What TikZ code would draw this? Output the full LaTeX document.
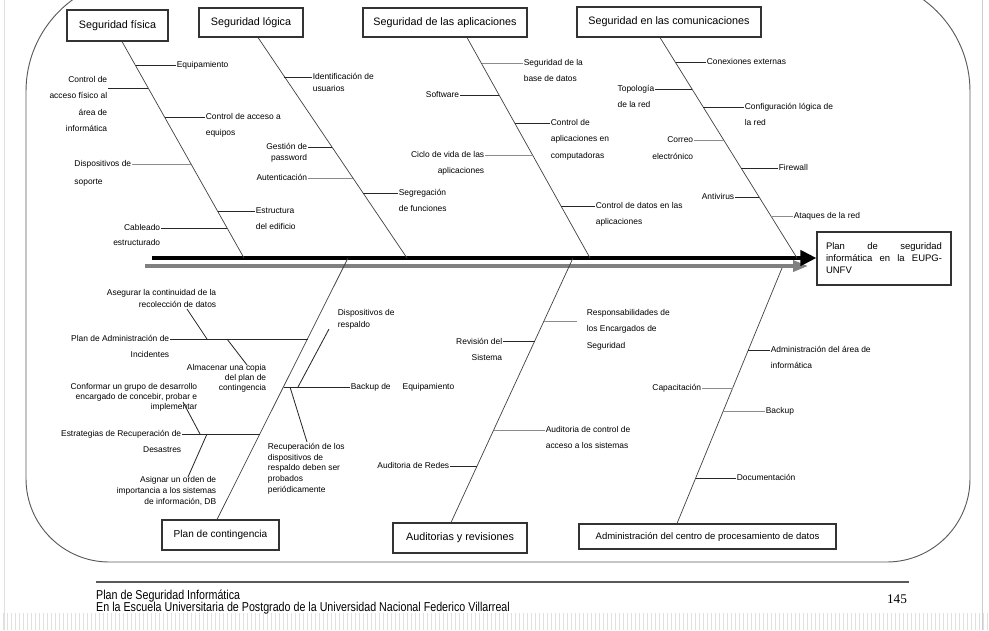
\documentclass[tikz,border=0pt]{standalone}
\usepackage{fontspec}
\setmainfont{Liberation Sans}
\newfontfamily\footfont[FakeStretch=0.83]{Liberation Sans}
\newfontfamily\pagefont{Liberation Serif}
\usetikzlibrary{arrows.meta, calc}
\definecolor{framegray}{RGB}{90,90,90}
\definecolor{twiggray}{RGB}{140,140,140}
\definecolor{spinegray}{RGB}{128,128,128}

\begin{document}
\begin{tikzpicture}[
  x=0.03cm, y=-0.03cm,
  catbox/.style={draw=black!80, line width=0.9pt, fill=white, inner sep=0pt,
                 font=\fontsize{9.2}{11}\selectfont},
  lbl/.style={inner sep=0.5pt, align=left, font=\fontsize{7.2}{13.8}\selectfont},
  tight/.style={inner sep=0.5pt, align=left, font=\fontsize{7.2}{9.3}\selectfont},
  bone/.style={draw=black!75, line width=0.6pt},
  twig/.style={draw=black!85, line width=0.7pt},
  twigg/.style={draw=twiggray, line width=0.7pt},
]
  \useasboundingbox (0,0) rectangle (989,630);
  \clip (0,0) rectangle (989,630);

  % page edges of the scan
  \draw[black!12] (4,0) -- (4,630);
  \draw[black!20] (982,0) -- (982,630);
  \foreach \x in {3,7,...,987}
    \draw[black!12] (\x,613) -- (\x,630);

  % frame
  \draw[framegray, line width=0.8pt] (500,562) [rounded corners=2.5cm] -- (26,562) -- (26,300)
    [rounded corners=3.4cm] -- (26,-22) -- (500,-22) -- (970,-22) -- (970,300)
    [rounded corners=2.5cm] -- (970,562) -- (500,562);

  % category boxes
  \node[catbox, minimum width=3.03cm, minimum height=0.93cm] (sf) at (117.5,25.5) {Seguridad física};
  \node[catbox, minimum width=3.12cm, minimum height=0.87cm] (sl) at (251,22.5) {Seguridad lógica};
  \node[catbox, minimum width=4.92cm, minimum height=0.87cm] (sa) at (445,22.5) {Seguridad de las aplicaciones};
  \node[catbox, minimum width=5.52cm, minimum height=0.9cm] (sc) at (669,22) {Seguridad en las comunicaciones};
  \node[catbox, minimum width=3.51cm, minimum height=0.9cm, font=\fontsize{8.6}{10}\selectfont] (pc) at (220.5,535) {Plan de contingencia};
  \node[catbox, minimum width=4.02cm, minimum height=0.9cm] (ar) at (460,538) {Auditorias y revisiones};
  \node[catbox, minimum width=7.71cm, minimum height=0.75cm, font=\fontsize{8.1}{10}\selectfont] (dm) at (707.5,536.5) {Administración del centro de procesamiento de datos};

  % effect
  \node[draw=black!80, line width=0.9pt, fill=white, minimum width=4.02cm, minimum height=1.59cm,
        text width=3.48cm, align=left, inner xsep=0.27cm, font=\fontsize{8.1}{10.2}\selectfont]
    (hd) at (884,258.5) {Plan\hfill de\hfill seguridad\\informática\hfill en\hfill la\hfill EUPG-\\UNFV};

  % spine
  \coordinate (sp0) at (152,258);
  \coordinate (sp1) at (145,266);
  \coordinate (sp2) at (808,266);
  \draw[spinegray, line width=0.105cm, -{Triangle[length=0.45cm, width=0.33cm]}] (sp1) -- (sp2);
  \draw[black, line width=0.12cm, -{Triangle[length=0.48cm, width=0.45cm]}] (sp0) -- (sp0 -| hd.west);

  % bones
  \draw[bone] (122,0 |- sf.south) -- (244,258);
  \draw[bone] (258,0 |- sl.south) -- (407,258);
  \draw[bone] (467,0 |- sa.south) -- (590,258);
  \draw[bone] (660,0 |- sc.south) -- (797,258);
  \draw[bone] (348,258) -- (217,0 |- pc.north);
  \draw[bone] (573,258) -- (451,0 |- ar.north);
  \draw[bone] (782,268) -- (677,0 |- dm.north);

  % Seguridad fisica (multi-line labels sit on their last baseline)
  \node[lbl, anchor=base west] (fis1) at (176,67.5) {Equipamiento};
  \node[lbl, font=\fontsize{7.2}{13.9}\selectfont, align=right, anchor=base east] (fis2) at (108,131.5) {Control de\\acceso físico al\\área de\\informática};
  \node[lbl, anchor=base west] (fis3) at (205,135.7) {Control de acceso a\\equipos};
  \node[lbl, font=\fontsize{7.2}{15}\selectfont, anchor=base east] (fis4) at (132,184.1) {Dispositivos de\\soporte};
  \node[lbl, anchor=base west] (fis5) at (255,229.7) {Estructura\\del edificio};
  \node[lbl, font=\fontsize{7.2}{12.8}\selectfont, align=right, anchor=base east] (fis6) at (161,245.5) {Cableado\\estructurado};
  \coordinate (f1) at (135.5,65);
  \coordinate (f2) at (148.4,88);
  \coordinate (f3) at (164.7,117);
  \coordinate (f4) at (191.2,164);
  \coordinate (f5) at (217.6,211);
  \coordinate (f6) at (227.1,228);
  \draw[twig] (f1) -- (f1 -| fis1.west);
  \draw[twig] (f2) -- (f2 -| fis2.east);
  \draw[twig] (f3) -- (f3 -| fis3.west);
  \draw[twigg] (f4) -- (f4 -| fis4.east);
  \draw[twig] (f5) -- (f5 -| fis5.west);
  \draw[twig] (f6) -- (f6 -| fis6.east);

  % Seguridad logica
  \node[tight, font=\fontsize{7.2}{10.2}\selectfont, anchor=base west] (log1) at (312,91.5) {Identificación de\\usuarios};
  \node[tight, align=right, anchor=base east] (log2) at (308,160.4) {Gestión de\\password};
  \node[lbl, anchor=base east] (log3) at (308,180.5) {Autenticación};
  \node[lbl, anchor=base west] (log4) at (398,211.7) {Segregación\\de funciones};
  \coordinate (l1) at (283.9,77);
  \coordinate (l2) at (331.5,147);
  \coordinate (l3) at (352.6,178);
  \coordinate (l4) at (362.8,193);
  \draw[twig] (l1) -- (l1 -| log1.west);
  \draw[twig] (l2) -- (l2 -| log2.east);
  \draw[twigg] (l3) -- (l3 -| log3.east);
  \draw[twig] (l4) -- (l4 -| log4.west);

  % Seguridad de las aplicaciones
  \node[lbl, anchor=base west] (apl1) at (523,81.7) {Seguridad de la\\base de datos};
  \node[lbl, anchor=base east] (apl2) at (460,97.5) {Software};
  \node[lbl, anchor=base west] (apl3) at (550,158) {Control de\\aplicaciones en\\computadoras};
  \node[lbl, align=right, anchor=base east] (apl4) at (485,173.7) {Ciclo de vida de las\\aplicaciones};
  \node[lbl, anchor=base west] (apl5) at (595,224.7) {Control de datos en las\\aplicaciones};
  \coordinate (a1) at (481.5,63);
  \coordinate (a2) at (499.3,95);
  \coordinate (a3) at (514.9,123);
  \coordinate (a4) at (532.7,155);
  \coordinate (a5) at (561.1,206);
  \draw[twigg] (a1) -- (a1 -| apl1.west);
  \draw[twig] (a2) -- (a2 -| apl2.east);
  \draw[twig] (a3) -- (a3 -| apl3.west);
  \draw[twigg] (a4) -- (a4 -| apl4.east);
  \draw[twig] (a5) -- (a5 -| apl5.west);

  % Seguridad en las comunicaciones
  \node[lbl, anchor=base west] (com1) at (706,64.5) {Conexiones externas};
  \node[lbl, anchor=base east] (com2) at (655,107.7) {Topología\\de la red};
  \node[lbl, anchor=base west] (com3) at (744,125.7) {Configuración lógica de\\la red};
  \node[lbl, font=\fontsize{7.2}{14.4}\selectfont, align=right, anchor=base east] (com4) at (694,159.4) {Correo\\electrónico};
  \node[lbl, anchor=base west] (com5) at (778,170.5) {Firewall};
  \node[lbl, anchor=base east] (com6) at (735,199.5) {Antivirus};
  \node[lbl, anchor=base west] (com7) at (793,218.5) {Ataques de la red};
  \coordinate (c1) at (675.5,62);
  \coordinate (c2) at (692.2,89);
  \coordinate (c3) at (703.4,107);
  \coordinate (c4) at (723.9,140);
  \coordinate (c5) at (741.2,168);
  \coordinate (c6) at (759.2,197);
  \coordinate (c7) at (771,216);
  \draw[twig] (c1) -- (c1 -| com1.west);
  \draw[twig] (c2) -- (c2 -| com2.east);
  \draw[twig] (c3) -- (c3 -| com3.west);
  \draw[twigg] (c4) -- (c4 -| com4.east);
  \draw[twig] (c5) -- (c5 -| com5.west);
  \draw[twig] (c6) -- (c6 -| com6.east);
  \draw[twigg] (c7) -- (c7 -| com7.west);

  % Plan de contingencia
  \node[lbl, align=right, anchor=base east] (con1) at (170,357.7) {Plan de Administración de\\Incidentes};
  \node[tight, font=\fontsize{7.2}{10.2}\selectfont, align=right, anchor=base east] (con1a) at (217,307.5) {Asegurar la continuidad de la\\recolección de datos};
  \node[tight, font=\fontsize{7.2}{8.6}\selectfont, align=right, anchor=base east] (con1b) at (267,390.7) {Almacenar una copia\\del plan de\\contingencia};
  \node[lbl, anchor=base west] (con2) at (350,389.5) {Backup de\hspace{0.36cm}Equipamiento};
  \node[tight, font=\fontsize{7.2}{10.2}\selectfont, anchor=base west] (con2a) at (337,327.5) {Dispositivos de\\respaldo};
  \node[tight, font=\fontsize{7.2}{9.1}\selectfont, anchor=base west] (con2b) at (267,492.3) {Recuperación de los\\dispositivos de\\respaldo deben ser\\probados\\periódicamente};
  \node[lbl, align=right, anchor=base east] (con3) at (182,452.7) {Estrategias de Recuperación de\\Desastres};
  \node[tight, font=\fontsize{7.2}{8.6}\selectfont, align=right, anchor=base east] (con3a) at (198,409.7) {Conformar un grupo de desarrollo\\encargado de concebir, probar e\\implementar};
  \node[tight, align=right, anchor=base east] (con3b) at (217,504.4) {Asignar un orden de\\importancia a los sistemas\\de información, DB};
  \coordinate (p1) at (307.5,339);
  \coordinate (p2) at (283.5,387);
  \coordinate (p3) at (260,434);
  \draw[twig] (p1) -- (p1 -| con1.east);
  \draw[twig] (p2) -- (p2 -| con2.west);
  \draw[twig] (p3) -- (p3 -| con3.east);
  \coordinate (q1) at (187,309);
  \coordinate (q2) at (207,339);
  \coordinate (q3) at (227,339);
  \coordinate (q4) at (247,365);
  \coordinate (q5) at (298,387);
  \coordinate (q6) at (329,329);
  \coordinate (q7) at (290,387);
  \coordinate (q8) at (307,442);
  \coordinate (q9) at (200,434);
  \coordinate (q10) at (183,402);
  \coordinate (q11) at (207,434);
  \coordinate (q12) at (188,477);
  \draw[twig] (q2) -- (q1);
  \draw[twig] (q3) -- (q4);
  \draw[twig] (q5) -- (q6);
  \draw[twig] (q7) -- (q8);
  \draw[twig] (q9) -- (q10);
  \draw[twig] (q11) -- (q12);

  % Auditorias y revisiones
  \node[lbl, anchor=base west] (aud1) at (586,348) {Responsabilidades de\\los Encargados de\\Seguridad};
  \node[lbl, align=right, anchor=base east] (aud2) at (503,360.7) {Revisión del\\Sistema};
  \node[lbl, anchor=base west] (aud3) at (545,448.7) {Auditoria de control de\\acceso a los sistemas};
  \node[lbl, anchor=base east] (aud4) at (450,468.5) {Auditoria de Redes};
  \coordinate (u1) at (544,321);
  \coordinate (u1e) at (577,321);
  \coordinate (u2) at (534.8,341);
  \coordinate (u3) at (493.8,430);
  \coordinate (u4) at (477.2,466);
  \draw[twigg] (u1) -- (u1e);
  \draw[twig] (u2) -- (u2 -| aud2.east);
  \draw[twigg] (u3) -- (u3 -| aud3.west);
  \draw[twig] (u4) -- (u4 -| aud4.east);

  % Administracion del centro de procesamiento de datos
  \node[lbl, anchor=base west] (adm1) at (770,368.7) {Administración del área de\\informática};
  \node[lbl, anchor=base east] (adm2) at (702,390.5) {Capacitación};
  \node[lbl, anchor=base west] (adm3) at (765,413.5) {Backup};
  \node[lbl, anchor=base west] (adm4) at (736,480.5) {Documentación};
  \coordinate (d1) at (748.2,350);
  \coordinate (d2) at (732.6,388);
  \coordinate (d3) at (723.1,411);
  \coordinate (d4) at (695.5,478);
  \draw[twig] (d1) -- (d1 -| adm1.west);
  \draw[twigg] (d2) -- (d2 -| adm2.east);
  \draw[twigg] (d3) -- (d3 -| adm3.west);
  \draw[twig] (d4) -- (d4 -| adm4.west);

  % footer
  \coordinate (r0) at (96,582);
  \coordinate (r1) at (909,582);
  \draw[black!65, line width=1.1pt] (r0) -- (r1);
  \node[anchor=north west, inner sep=0pt, align=left, font=\footfont\fontsize{11}{10.3}\selectfont]
    (foot) at (96,590) {Plan de Seguridad Informática\\En la Escuela Universitaria de Postgrado de la Universidad Nacional Federico Villarreal};
  \node[inner sep=0pt, font=\pagefont\fontsize{11.3}{13}\selectfont] (pg) at (897,599) {145};
\end{tikzpicture}
\end{document}
